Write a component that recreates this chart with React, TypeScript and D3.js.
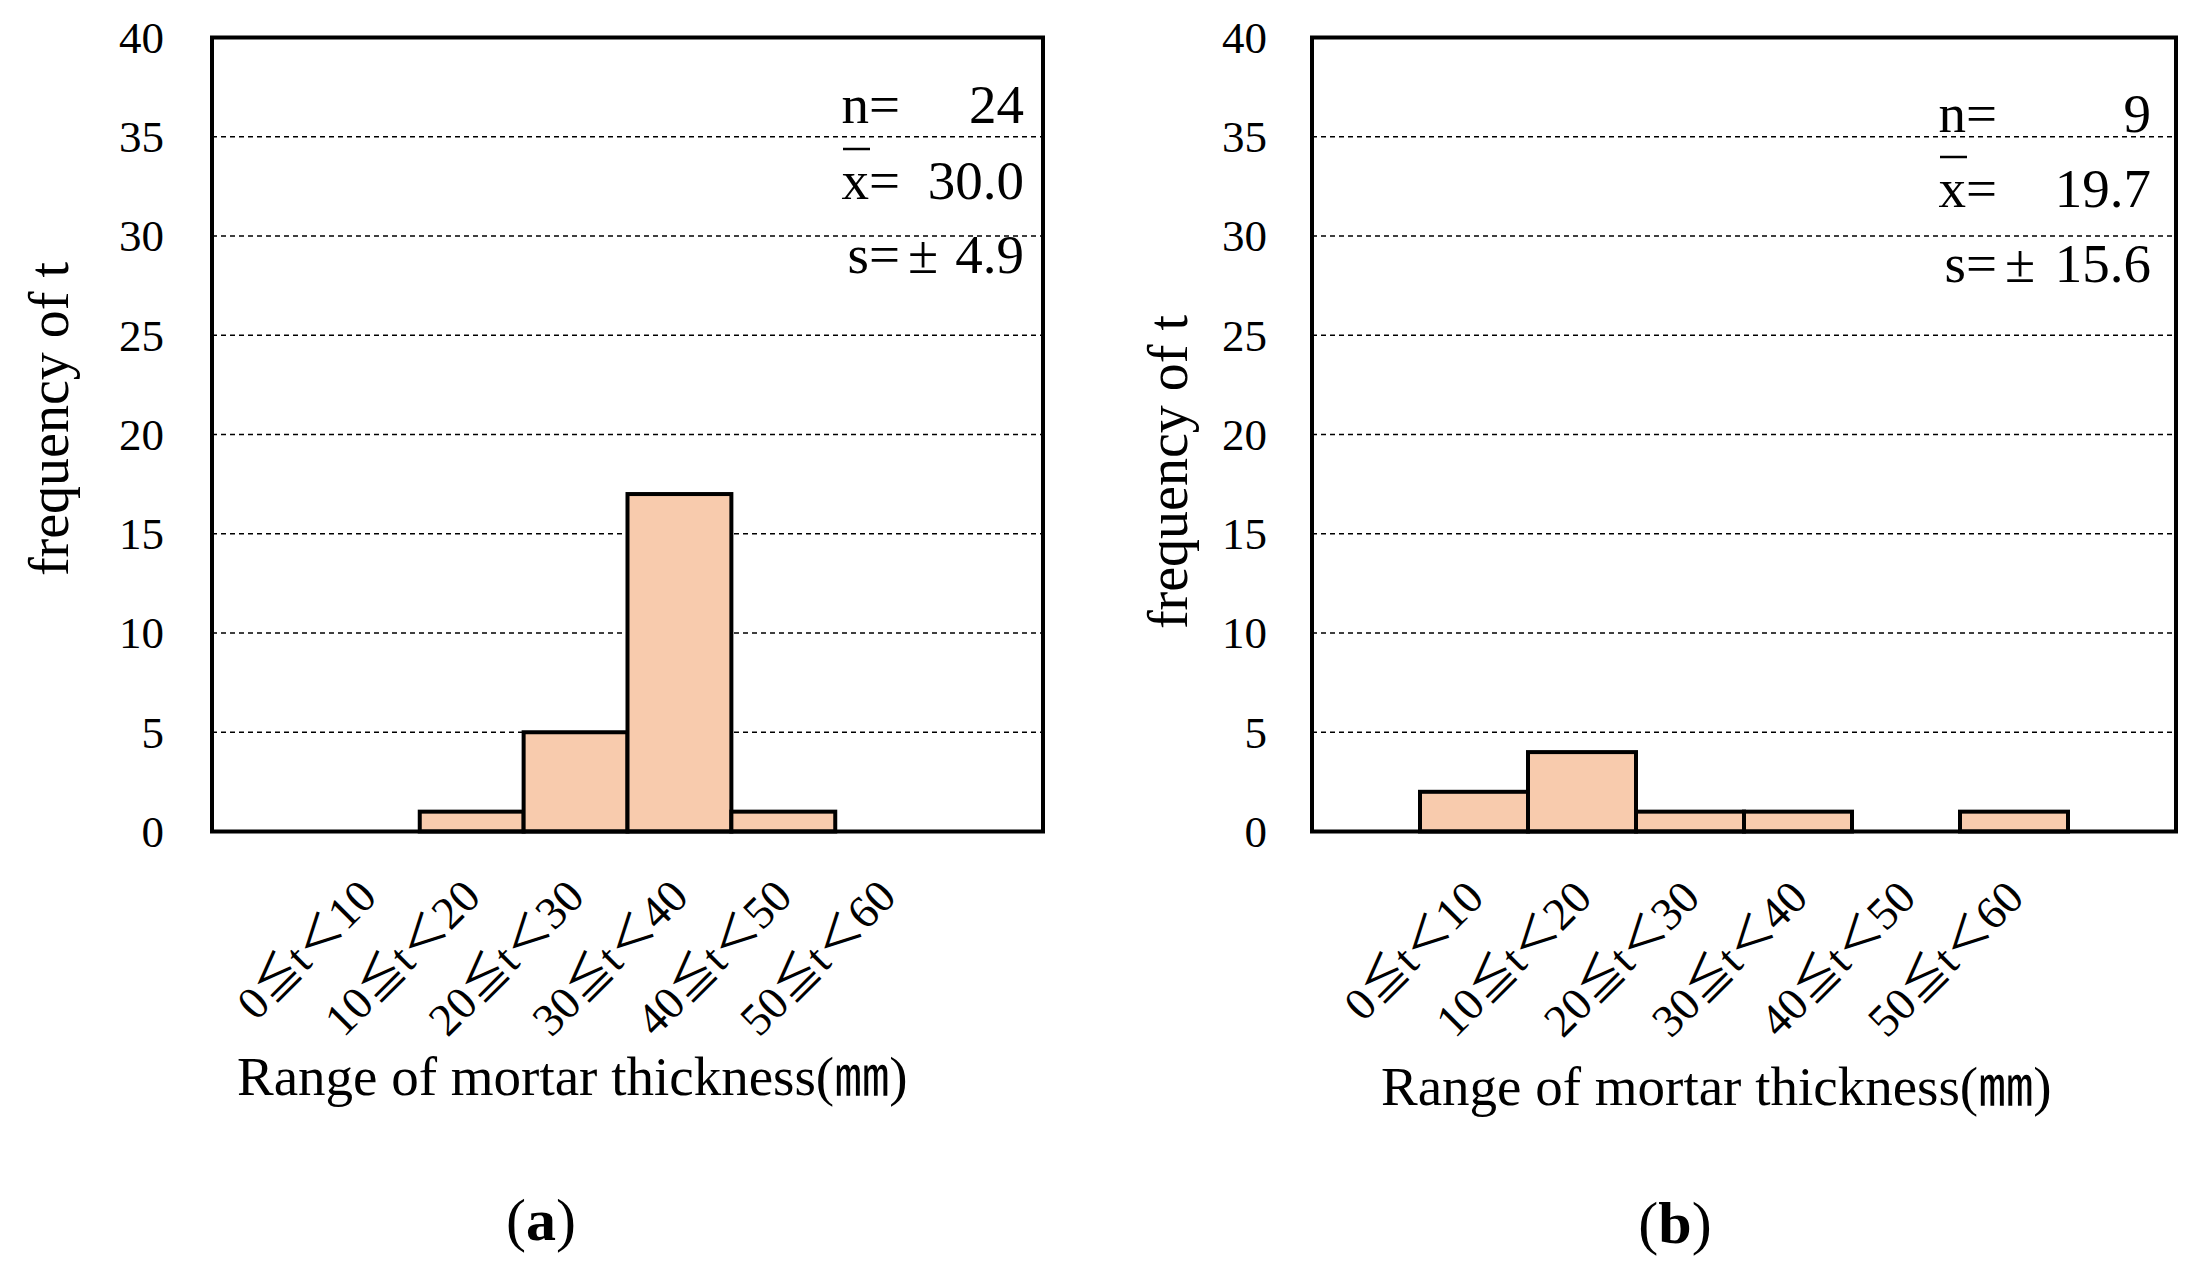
import React, { useEffect } from "react";
import * as d3 from "d3";

// ---------- data ----------
const categories = ["0≦t＜10", "10≦t＜20", "20≦t＜30", "30≦t＜40", "40≦t＜50", "50≦t＜60"];
const countsA = [0, 1, 5, 17, 1, 0];
const countsB = [2, 4, 1, 1, 0, 1];
const yTicks = [0, 5, 10, 15, 20, 25, 30, 35, 40];
const gridTicks = [5, 10, 15, 20, 25, 30, 35];
const statLabels = ["n=", "x=", "s="];
const statValuesA = ["24", "30.0", "4.9"];
const statValuesB = ["9", "19.7", "15.6"];
const panelLetters = ["a", "b"];
const yTitle = "frequency of t";
const xTitle = "Range of mortar thickness(㎜)";

// ---------- layout ----------
const W = 2208;
const H = 1284;
const FONT = "'Liberation Serif', 'Noto Sans CJK JP', serif";
const FILL = "#F8CBAD";

const panels = [
  {
    counts: countsA,
    stats: statValuesA,
    letter: panelLetters[0],
    x0: 212, x1: 1043, yTop: 37.5, yBot: 831.5,
    tickRight: 164,
    yTitleX: 68, yTitleY: 419,
    xTitleX: 237, xTitleY: 1095,
    statLabelEnd: 900, statPm: 908, statValEnd: 1024, statRows: [123, 199, 273],
    letterX: 541, letterY: 1240,
    catDx: 11, catY: 899,
  },
  {
    counts: countsB,
    stats: statValuesB,
    letter: panelLetters[1],
    x0: 1312, x1: 2176, yTop: 37.5, yBot: 831.5,
    tickRight: 1267,
    yTitleX: 1187, yTitleY: 472,
    xTitleX: 1381, xTitleY: 1105,
    statLabelEnd: 1997, statPm: 2005, statValEnd: 2151, statRows: [132, 207, 282],
    letterX: 1675, letterY: 1243,
    catDx: 12, catY: 900,
  },
];

function Panel({ p }: { p: (typeof panels)[number] }) {
  const x = d3
    .scaleBand<string>()
    .domain(categories)
    .range([p.x0, p.x1])
    .paddingInner(0)
    .paddingOuter(1);
  const y = d3.scaleLinear().domain([0, 40]).range([p.yBot, p.yTop]);
  const bw = x.bandwidth();

  return (
    <g>
      {gridTicks.map((t) => (
        <line
          key={"g" + t}
          x1={p.x0}
          x2={p.x1}
          y1={y(t)}
          y2={y(t)}
          stroke="#000"
          strokeWidth={1.3}
          strokeDasharray="5,4"
        />
      ))}
      {categories.map((c, i) =>
        p.counts[i] > 0 ? (
          <rect
            key={"b" + c}
            x={x(c)}
            y={y(p.counts[i])}
            width={bw}
            height={y(0) - y(p.counts[i])}
            fill={FILL}
            stroke="#000"
            strokeWidth={4}
          />
        ) : null
      )}
      <rect
        x={p.x0}
        y={p.yTop}
        width={p.x1 - p.x0}
        height={p.yBot - p.yTop}
        fill="none"
        stroke="#000"
        strokeWidth={4}
      />
      {yTicks.map((t) => (
        <text
          key={"t" + t}
          x={p.tickRight}
          y={y(t)}
          dy="0.34em"
          textAnchor="end"
          fontFamily={FONT}
          fontSize={45}
        >
          {t}
        </text>
      ))}
      <text
        x={p.yTitleX}
        y={p.yTitleY}
        transform={`rotate(-90, ${p.yTitleX}, ${p.yTitleY})`}
        textAnchor="middle"
        fontFamily={FONT}
        fontSize={56}
      >
        {yTitle}
      </text>
      {categories.map((c) => {
        const ax = (x(c) as number) + bw / 2 + p.catDx;
        const ay = p.catY;
        return (
          <text
            key={"c" + c}
            x={ax}
            y={ay}
            transform={`rotate(-45, ${ax}, ${ay})`}
            textAnchor="end"
            fontFamily={FONT}
            fontSize={46}
          >
            {c}
          </text>
        );
      })}
      <text x={p.xTitleX} y={p.xTitleY} fontFamily={FONT} fontSize={55}>
        {xTitle}
      </text>
      {statLabels.map((l, i) => (
        <text
          key={"sl" + i}
          x={p.statLabelEnd}
          y={p.statRows[i]}
          textAnchor="end"
          fontFamily={FONT}
          fontSize={55}
        >
          {l}
        </text>
      ))}
      <line
        x1={p.statLabelEnd - 57}
        x2={p.statLabelEnd - 30}
        y1={p.statRows[1] - 50}
        y2={p.statRows[1] - 50}
        stroke="#000"
        strokeWidth={2.5}
      />
      <text x={p.statPm} y={p.statRows[2]} fontFamily={FONT} fontSize={55}>
        ±
      </text>
      {p.stats.map((v, i) => (
        <text
          key={"sv" + i}
          x={p.statValEnd}
          y={p.statRows[i]}
          textAnchor="end"
          fontFamily={FONT}
          fontSize={55}
        >
          {v}
        </text>
      ))}
      <text x={p.letterX} y={p.letterY} textAnchor="middle" fontFamily={FONT} fontSize={60}>
        (<tspan fontWeight="bold">{p.letter}</tspan>)
      </text>
    </g>
  );
}

export default function App() {
  useEffect(() => {
    document.body.style.margin = "0";
  }, []);
  return (
    <svg
      width={W}
      height={H}
      viewBox={`0 0 ${W} ${H}`}
      style={{ position: "absolute", left: 0, top: 0, background: "#fff" }}
    >
      <rect x={0} y={0} width={W} height={H} fill="#fff" />
      {panels.map((p, i) => (
        <Panel key={i} p={p} />
      ))}
    </svg>
  );
}
